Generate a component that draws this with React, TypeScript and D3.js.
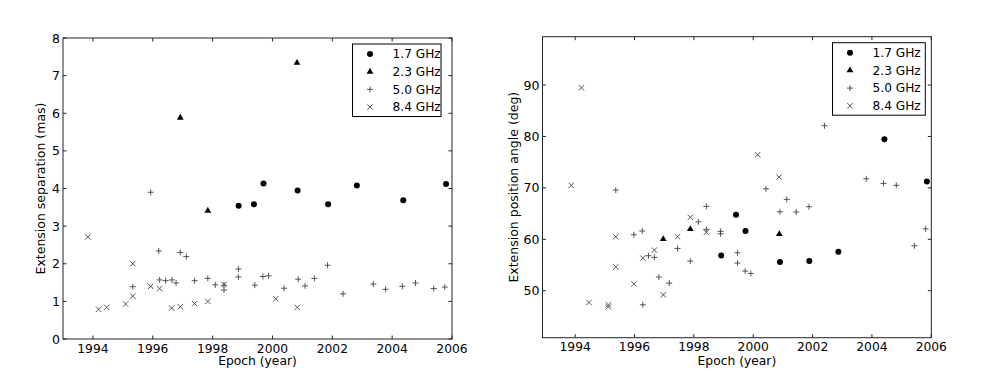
import { useEffect, useRef } from "react";
import * as d3 from "d3";

// [epoch, separation (mas)]
const SEP_17 = [
  [1998.87, 3.54], [1999.38, 3.58], [1999.7, 4.13], [2000.84, 3.95],
  [2001.86, 3.58], [2002.82, 4.08], [2004.37, 3.69], [2005.8, 4.12],
];
const SEP_23 = [[1996.92, 5.88], [2000.82, 7.34], [1997.84, 3.41]];
const SEP_50 = [
  [1995.93, 3.9], [1996.2, 2.34], [1996.92, 2.3], [1997.12, 2.19],
  [1995.33, 1.39], [1996.23, 1.57], [1996.43, 1.55], [1996.64, 1.57],
  [1996.78, 1.49], [1997.4, 1.55], [1997.84, 1.61], [1998.09, 1.44],
  [1998.38, 1.43], [1998.38, 1.3], [1998.86, 1.86], [1998.86, 1.65],
  [1999.41, 1.43], [1999.68, 1.66], [1999.87, 1.68], [2000.39, 1.35],
  [2000.86, 1.59], [2001.09, 1.41], [2001.4, 1.61], [2001.84, 1.96],
  [2002.36, 1.2], [2003.37, 1.46], [2003.78, 1.32], [2004.34, 1.4],
  [2004.78, 1.49], [2005.39, 1.34], [2005.76, 1.38],
];
const SEP_84 = [
  [1993.83, 2.71], [1994.19, 0.79], [1994.46, 0.84], [1995.09, 0.93],
  [1995.33, 2.0], [1995.33, 1.14], [1995.93, 1.4], [1996.23, 1.34],
  [1996.63, 0.82], [1996.92, 0.86], [1997.4, 0.94], [1997.84, 1.0],
  [1998.38, 1.45], [2000.11, 1.07], [2000.83, 0.84],
];

// [epoch, position angle (deg)]
const PA_17 = [
  [1998.92, 56.87], [1999.42, 64.77], [1999.74, 61.6], [2000.9, 55.6],
  [2001.89, 55.8], [2002.87, 57.57], [2004.42, 79.44], [2005.85, 71.26],
];
const PA_23 = [[1996.97, 60.04], [1997.88, 61.98], [2000.88, 61.0]];
const PA_50 = [
  [1995.37, 69.57], [1995.98, 60.88], [1996.26, 61.6], [1996.47, 56.8],
  [1996.67, 56.48], [1996.82, 52.65], [1997.17, 51.48], [1996.28, 47.26],
  [1997.45, 58.22], [1997.88, 55.76], [1998.15, 63.4], [1998.42, 66.4],
  [1998.42, 61.93], [1998.9, 61.54], [1998.9, 61.07], [1999.47, 57.37],
  [1999.47, 55.37], [1999.73, 53.81], [1999.92, 53.36], [2000.43, 69.82],
  [2000.9, 65.35], [2001.13, 67.76], [2001.45, 65.3], [2001.88, 66.33],
  [2002.4, 82.08], [2003.81, 71.77], [2004.39, 70.87], [2004.82, 70.49],
  [2005.81, 62.04], [2005.43, 58.74],
];
const PA_84 = [
  [1994.21, 89.47], [1993.87, 70.49], [1994.47, 47.72], [1995.12, 47.26],
  [1995.12, 46.87], [1995.37, 60.49], [1995.37, 54.65], [1995.98, 51.34],
  [1996.28, 56.34], [1996.67, 57.9], [1996.97, 49.2], [1997.45, 60.49],
  [1997.88, 64.26], [1998.42, 61.34], [2000.15, 76.44], [2000.87, 72.1],
];

const LEGEND = ["1.7 GHz", "2.3 GHz", "5.0 GHz", "8.4 GHz"];
const MARKERS = ["circle", "triangle", "plus", "cross"];
const X_TICKS = [1994, 1996, 1998, 2000, 2002, 2004, 2006];
const SEP_TICKS = [0, 1, 2, 3, 4, 5, 6, 7, 8];
const PA_TICKS = [50, 60, 70, 80, 90];

const FONT = "DejaVu Sans, sans-serif";

function drawMarker(g, kind, x, y) {
  if (kind === "circle") {
    g.append("circle").attr("cx", x).attr("cy", y).attr("r", 3).attr("fill", "#000");
  } else if (kind === "triangle") {
    g.append("path")
      .attr("d", d3.symbol(d3.symbolTriangle, 20)())
      .attr("transform", `translate(${x},${y})`)
      .attr("fill", "#000");
  } else if (kind === "plus") {
    g.append("path")
      .attr("d", `M${x - 3},${y}H${x + 3}M${x},${y - 3}V${y + 3}`)
      .attr("stroke", "#444")
      .attr("stroke-width", 0.9)
      .attr("fill", "none");
  } else {
    g.append("path")
      .attr("d", `M${x - 2.7},${y - 2.7}L${x + 2.7},${y + 2.7}M${x - 2.7},${y + 2.7}L${x + 2.7},${y - 2.7}`)
      .attr("stroke", "#444")
      .attr("stroke-width", 0.9)
      .attr("fill", "none");
  }
}

function drawPanel(svg, p) {
  const x = d3.scaleLinear().domain(p.xDomain).range([p.left, p.right]);
  const y = d3.scaleLinear().domain(p.yDomain).range([p.bottom, p.top]);
  const g = svg.append("g");

  // series
  p.series.forEach((s, i) => {
    s.forEach((d) => drawMarker(g, MARKERS[i], x(d[0]), y(d[1])));
  });

  // frame
  g.append("rect")
    .attr("x", p.left)
    .attr("y", p.top)
    .attr("width", p.right - p.left)
    .attr("height", p.bottom - p.top)
    .attr("fill", "none")
    .attr("stroke", "#222")
    .attr("stroke-width", 1);

  const tl = 3.5;
  X_TICKS.forEach((t) => {
    const tx = x(t);
    g.append("line").attr("x1", tx).attr("x2", tx).attr("y1", p.bottom).attr("y2", p.bottom - tl).attr("stroke", "#222");
    g.append("line").attr("x1", tx).attr("x2", tx).attr("y1", p.top).attr("y2", p.top + tl).attr("stroke", "#222");
    g.append("text")
      .attr("x", tx)
      .attr("y", p.bottom + 13.5)
      .attr("text-anchor", "middle")
      .attr("font-family", FONT)
      .attr("font-size", 12.3)
      .text(t);
  });

  p.yTicks.forEach((t) => {
    const ty = y(t);
    g.append("line").attr("x1", p.left).attr("x2", p.left + tl).attr("y1", ty).attr("y2", ty).attr("stroke", "#222");
    g.append("line").attr("x1", p.right).attr("x2", p.right - tl).attr("y1", ty).attr("y2", ty).attr("stroke", "#222");
    g.append("text")
      .attr("x", p.left - 3)
      .attr("y", ty)
      .attr("dy", "0.36em")
      .attr("text-anchor", "end")
      .attr("font-family", FONT)
      .attr("font-size", 12.5)
      .text(t);
  });

  g.append("text")
    .attr("x", (p.left + p.right) / 2)
    .attr("y", 365)
    .attr("text-anchor", "middle")
    .attr("font-family", FONT)
    .attr("font-size", 12.3)
    .text("Epoch (year)");

  g.append("text")
    .attr("transform", `translate(${p.yLabelX},${(p.top + p.bottom) / 2}) rotate(-90)`)
    .attr("text-anchor", "middle")
    .attr("dy", "0.35em")
    .attr("font-family", FONT)
    .attr("font-size", 12.5)
    .text(p.yLabel);

  // legend
  const lg = g.append("g");
  lg.append("rect")
    .attr("x", p.legend.x)
    .attr("y", p.legend.y)
    .attr("width", p.legend.w)
    .attr("height", 72.5)
    .attr("fill", "#fff")
    .attr("stroke", "#000")
    .attr("stroke-width", 1);
  LEGEND.forEach((label, i) => {
    const ly = p.legend.y + 10 + i * 17.7;
    drawMarker(lg, MARKERS[i], p.legend.x + 17.5, ly);
    lg.append("text")
      .attr("x", p.legend.x + 40)
      .attr("y", ly)
      .attr("dy", "0.36em")
      .attr("font-family", FONT)
      .attr("font-size", 12.2)
      .text(label);
  });
}

export default function App() {
  const svgRef = useRef(null);

  useEffect(() => {
    document.body.style.margin = "0";
    const svg = d3.select(svgRef.current);
    svg.selectAll("*").remove();

    drawPanel(svg, {
      left: 63, right: 452, top: 38, bottom: 339,
      xDomain: [1993, 2006], yDomain: [0, 8],
      yTicks: SEP_TICKS,
      yLabel: "Extension separation (mas)", yLabelX: 41,
      series: [SEP_17, SEP_23, SEP_50, SEP_84],
      legend: { x: 352.5, y: 44, w: 88.5 },
    });

    drawPanel(svg, {
      left: 542.5, right: 931.3, top: 36.7, bottom: 337.7,
      xDomain: [1992.9, 2006], yDomain: [40.86, 99.4],
      yTicks: PA_TICKS,
      yLabel: "Extension position angle (deg)", yLabelX: 514,
      series: [PA_17, PA_23, PA_50, PA_84],
      legend: { x: 832.5, y: 42.7, w: 92.8 },
    });
  }, []);

  return <svg ref={svgRef} width={981} height={377} style={{ display: "block", background: "#fff" }} />;
}
